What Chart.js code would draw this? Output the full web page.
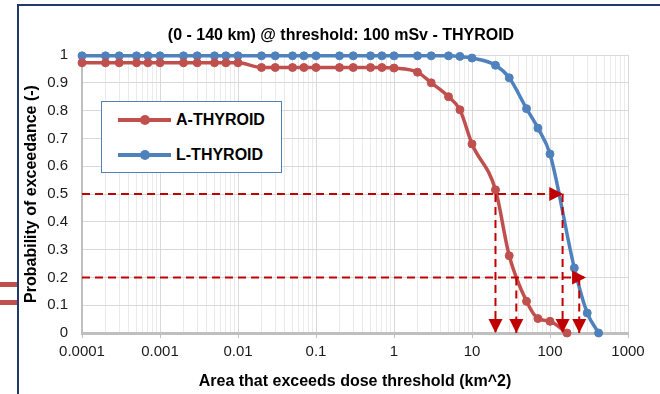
<!DOCTYPE html>
<html>
<head>
<meta charset="utf-8">
<script src="https://cdn.jsdelivr.net/npm/chart.js@4"></script>
<style>
html,body{margin:0;padding:0;background:#fff;}
#wrap{position:relative;width:660px;height:394px;overflow:hidden;font-family:"Liberation Sans",Arial,sans-serif;}
#chart{position:absolute;left:0;top:0;}
#frameTop{position:absolute;left:17px;top:4px;width:643px;height:2px;background:#1F3A6E;}
#frameLeft{position:absolute;left:17px;top:4px;width:2px;height:390px;background:#1F3A6E;}
.redmark{position:absolute;left:0;width:17px;height:5px;background:#C0504D;}
#title{position:absolute;left:0;top:25px;width:682px;text-align:center;font-weight:bold;font-size:16px;line-height:19px;color:#000;}
#legend{position:absolute;left:101px;top:101px;width:179px;height:70px;border:1px solid #4F81BD;background:#fff;}
#legend .row{position:absolute;left:0;height:20px;width:179px;}
#legend .ln{position:absolute;left:16px;top:8px;width:53px;height:4px;}
#legend .dot{position:absolute;left:38px;top:5px;width:10px;height:10px;border-radius:50%;}
#legend .txt{position:absolute;left:74px;top:0;font-weight:bold;font-size:16px;line-height:20px;color:#000;white-space:nowrap;}
</style>
</head>
<body>
<div id="wrap">
  <canvas id="chart" width="660" height="394"></canvas>
  <div id="frameTop"></div>
  <div id="frameLeft"></div>
  <div class="redmark" style="top:282px"></div>
  <div class="redmark" style="top:300px"></div>
  <div id="title">(0 - 140 km) @ threshold: 100 mSv - THYROID</div>
  <div id="legend"></div>
</div>
<script>
// ---- data ----
const seriesNames = ['A-THYROID', 'L-THYROID'];
const seriesColors = ['#C0504D', '#4F81BD'];

const aX = [0.0001,0.0002,0.0003,0.0005,0.0007,0.001,0.002,0.003,0.005,0.007,0.01,
            0.02,0.03,0.05,0.07,0.1,0.2,0.3,0.5,0.7,1,2,3,5,7,10,20,30,50,70,100,165];
const aY = [0.972,0.972,0.972,0.972,0.972,0.972,0.972,0.972,0.972,0.972,0.972,
            0.955,0.955,0.955,0.955,0.955,0.955,0.955,0.955,0.955,0.953,0.938,0.900,0.850,0.803,0.680,0.515,0.278,0.114,0.052,0.042,0.000];

const lX = [0.0001,0.0002,0.0003,0.0005,0.0007,0.001,0.002,0.003,0.005,0.007,0.01,
            0.02,0.03,0.05,0.07,0.1,0.2,0.3,0.5,0.7,1,2,3,5,7,10,20,30,50,70,100,205,300,420];
const lY = [0.997,0.997,0.997,0.997,0.997,0.997,0.997,0.997,0.997,0.997,0.997,
            0.997,0.997,0.997,0.997,0.997,0.997,0.997,0.997,0.997,0.997,0.997,0.997,0.997,0.995,0.989,0.963,0.918,0.807,0.737,0.644,0.234,0.072,0.000];

// dashed guide arrows (x pairs, y pairs)
const arrow50H_X = [0.0001, 148];  const arrow50H_Y = [0.5, 0.5];
const arrow50A_X = [20, 20];       const arrow50A_Y = [0.5, 0];
const arrow50L_X = [145, 145];     const arrow50L_Y = [0.5, 0];
const arrow20H_X = [0.0001, 290];  const arrow20H_Y = [0.2, 0.2];
const arrow20A_X = [37, 37];       const arrow20A_Y = [0.2, 0];
const arrow20L_X = [237, 237];     const arrow20L_Y = [0.2, 0];

// axis ticks
const xDecades = [0.0001,0.001,0.01,0.1,1,10,100,1000];
const xTickLabels = ['0.0001','0.001','0.01','0.1','1','10','100','1000'];
const xMinorMultipliers = [1,2,3,4,5,6,7,8,9];
const yTickLabels = ['0','0.1','0.2','0.3','0.4','0.5','0.6','0.7','0.8','0.9','1'];

// ---- build chart ----
const FONT = '"Liberation Sans", Arial, sans-serif';
const xTickValues = [];
xDecades.forEach((d, i) => {
  if (i === xDecades.length - 1) { xTickValues.push(d); return; }
  xMinorMultipliers.forEach(m => xTickValues.push(Number((d * m).toPrecision(6))));
});
const isDecade = v => Math.abs(Math.log10(v) - Math.round(Math.log10(v))) < 1e-9;
const zip = (xs, ys) => xs.map((x, i) => ({x, y: ys[i]}));

function arrowDs(xs, ys) {
  return {
    data: zip(xs, ys), arrow: true, order: -1,
    borderColor: '#C00000', backgroundColor: '#C00000',
    borderWidth: 2, borderDash: [8, 5], pointRadius: 0, tension: 0, fill: false, clip: false
  };
}
function seriesDs(i, xs, ys) {
  return {
    label: seriesNames[i], data: zip(xs, ys),
    borderColor: seriesColors[i], backgroundColor: seriesColors[i],
    pointBackgroundColor: seriesColors[i], pointBorderColor: seriesColors[i],
    borderWidth: 3.5, pointRadius: 4, pointBorderWidth: 1,
    cubicInterpolationMode: 'monotone', fill: false, clip: false
  };
}

const arrowHeads = {
  id: 'arrowHeads',
  afterDatasetsDraw(chart) {
    const ctx = chart.ctx;
    chart.data.datasets.forEach((ds, i) => {
      if (!ds.arrow) return;
      const pts = chart.getDatasetMeta(i).data;
      const p1 = pts[pts.length - 2], p2 = pts[pts.length - 1];
      const ang = Math.atan2(p2.y - p1.y, p2.x - p1.x);
      const L = 14, W = 7;
      ctx.save();
      ctx.translate(p2.x, p2.y);
      ctx.rotate(ang);
      ctx.beginPath();
      ctx.moveTo(0, 0); ctx.lineTo(-L, -W); ctx.lineTo(-L, W); ctx.closePath();
      ctx.fillStyle = ds.borderColor;
      ctx.fill();
      ctx.restore();
    });
  }
};

const chart = new Chart(document.getElementById('chart'), {
  type: 'line',
  data: {
    datasets: [
      seriesDs(0, aX, aY),
      seriesDs(1, lX, lY),
      arrowDs(arrow50H_X, arrow50H_Y),
      arrowDs(arrow50A_X, arrow50A_Y),
      arrowDs(arrow50L_X, arrow50L_Y),
      arrowDs(arrow20H_X, arrow20H_Y),
      arrowDs(arrow20A_X, arrow20A_Y),
      arrowDs(arrow20L_X, arrow20L_Y)
    ]
  },
  options: {
    responsive: false, animation: false, devicePixelRatio: 1, events: [],
    layout: {padding: {left: 22, top: 55, right: 32, bottom: 0}},
    plugins: {legend: {display: false}, tooltip: {enabled: false}, title: {display: false}},
    scales: {
      x: {
        type: 'logarithmic', min: 0.0001, max: 1000,
        afterBuildTicks: s => { s.ticks = xTickValues.map(v => ({value: v})); },
        afterFit: s => { s.height = 61; },
        ticks: {
          autoSkip: false, maxRotation: 0, minRotation: 0, padding: 5,
          color: '#1a1a1a', font: {family: FONT, size: 15},
          callback: v => { const i = xDecades.findIndex(d => Math.abs(d - v) / d < 1e-9); return i >= 0 ? xTickLabels[i] : ''; }
        },
        grid: {
          color: c => (c.tick && isDecade(c.tick.value)) ? '#D9D9D9' : '#EBEBEB',
          tickColor: c => (c.tick && isDecade(c.tick.value)) ? '#BFBFBF' : 'rgba(0,0,0,0)',
          lineWidth: 1, tickLength: 5, drawTicks: true
        },
        border: {color: '#BFBFBF', width: 3},
        title: {display: true, text: 'Area that exceeds dose threshold (km^2)', color: '#000',
                font: {family: FONT, size: 16, weight: 'bold'}, padding: {top: 0, bottom: 3}}
      },
      y: {
        min: 0, max: 1,
        afterFit: s => { s.width = 60; },
        ticks: {stepSize: 0.1, padding: 14, color: '#1a1a1a', font: {family: FONT, size: 15},
                callback: (v, i) => yTickLabels[Math.round(v * 10)]},
        grid: {color: '#D9D9D9', lineWidth: 1, drawTicks: false},
        border: {color: '#BFBFBF', width: 2},
        title: {display: true, text: 'Probability of exceedance (-)', color: '#000',
                font: {family: FONT, size: 16, weight: 'bold'}, padding: {top: 0, bottom: 0}}
      }
    }
  },
  plugins: [arrowHeads]
});

// HTML legend built from the datasets
const legend = document.getElementById('legend');
[0, 1].forEach((i, k) => {
  const ds = chart.data.datasets[i];
  const row = document.createElement('div');
  row.className = 'row';
  row.style.top = (8 + k * 35) + 'px';
  row.innerHTML = '<span class="ln" style="background:' + ds.borderColor + '"></span>' +
                  '<span class="dot" style="background:' + ds.borderColor + '"></span>' +
                  '<span class="txt">' + ds.label + '</span>';
  legend.appendChild(row);
});
</script>
</body>
</html>
